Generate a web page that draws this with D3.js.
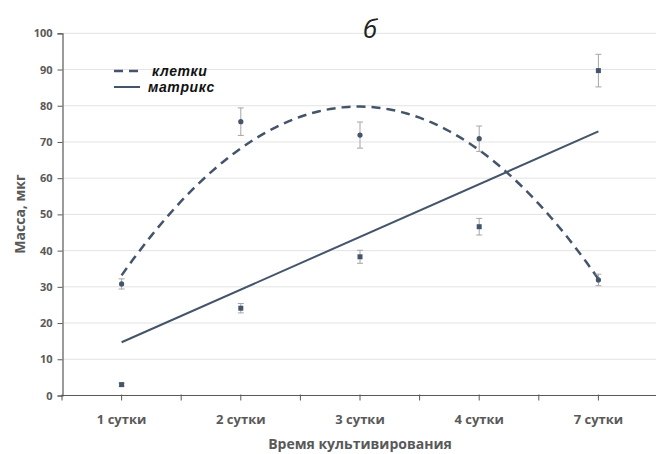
<!DOCTYPE html>
<html>
<head>
<meta charset="utf-8">
<script src="https://cdn.jsdelivr.net/npm/d3@7/dist/d3.min.js"></script>
<style>
  html, body { margin: 0; padding: 0; background: #fff; }
  svg { display: block; }
</style>
</head>
<body>
<svg id="chart" width="656" height="454"></svg>
<script>
// Culture days
const categories = ["1 сутки", "2 сутки", "3 сутки", "4 сутки", "7 сутки"];
// Cell mass, mean and error
const cellsValues = [30.8, 75.6, 71.9, 70.9, 31.9];
const cellsErrors = [1.4, 3.8, 3.6, 3.5, 1.6];
// Matrix mass, mean and error
const matrixValues = [3.0, 24.1, 38.3, 46.6, 89.7];
const matrixErrors = [0.4, 1.3, 1.8, 2.3, 4.5];
// Linear trend of the matrix series at the first and last day
const matrixTrend = [14.7, 72.9];
const yTicks = [0, 10, 20, 30, 40, 50, 60, 70, 80, 90, 100];

const svg = d3.select("#chart");
const dark = "#44546a";
const grey = "#595959";
const font = "'Open Sans', 'DejaVu Sans', sans-serif";
const legendFont = "'Liberation Sans', Arial, sans-serif";

const x = d3.scaleBand().domain(categories).range([62, 658]);
const cx = c => x(c) + x.bandwidth() / 2;
const y = d3.scaleLinear().domain([0, 100]).range([395.5, 33.3]);

// Gridlines
svg.append("g")
  .selectAll("line").data(yTicks.slice(1)).join("line")
  .attr("x1", 63).attr("x2", 656)
  .attr("y1", d => y(d)).attr("y2", d => y(d))
  .attr("stroke", "#e3e3e3").attr("stroke-width", 1);

// Y axis
const yAxis = svg.append("g")
  .attr("transform", "translate(62.5,0)")
  .call(d3.axisLeft(y).tickValues(yTicks).tickSize(5).tickPadding(5));
yAxis.select(".domain").attr("stroke", "#595959").attr("stroke-width", 1.2);
yAxis.selectAll(".tick line").attr("stroke", "#595959");
yAxis.selectAll(".tick text")
  .attr("fill", grey).attr("font-family", font)
  .attr("font-weight", "bold").attr("font-size", 11);

// X axis: ticks at category centres and boundaries
const xAxisG = svg.append("g").attr("transform", `translate(0,${y(0)})`);
xAxisG.append("line")
  .attr("x1", x.range()[0]).attr("x2", 656)
  .attr("stroke", "#595959").attr("stroke-width", 1.2);
const tickPos = [];
categories.forEach(c => { tickPos.push(x(c)); tickPos.push(cx(c)); });
xAxisG.selectAll("line.tk").data(tickPos).join("line")
  .attr("class", "tk")
  .attr("x1", d => d).attr("x2", d => d)
  .attr("y1", -1).attr("y2", 5)
  .attr("stroke", "#595959").attr("stroke-width", 1);
xAxisG.selectAll("text").data(categories).join("text")
  .attr("x", d => cx(d)).attr("y", 28)
  .attr("text-anchor", "middle")
  .attr("fill", grey).attr("font-family", font)
  .attr("font-weight", "bold").attr("font-size", 13)
  .text(d => d);

// Axis titles
svg.append("text")
  .attr("x", 360).attr("y", 449)
  .attr("text-anchor", "middle")
  .attr("fill", grey).attr("font-family", font)
  .attr("font-weight", "bold").attr("font-size", 14)
  .text("Время культивирования");
svg.append("text")
  .attr("transform", "translate(25,214) rotate(-90)")
  .attr("text-anchor", "middle")
  .attr("fill", grey).attr("font-family", font)
  .attr("font-weight", "bold").attr("font-size", 14)
  .text("Масса, мкг");

// Panel label
svg.append("text")
  .attr("x", 370).attr("y", 38)
  .attr("text-anchor", "middle")
  .attr("fill", "#222").attr("font-family", font)
  .attr("font-style", "italic").attr("font-size", 26)
  .text("б");

// Second-order polynomial trend of the cell series (least squares)
function quadFit(xs, ys) {
  let s = [0, 0, 0, 0, 0], t = [0, 0, 0];
  xs.forEach((xi, i) => {
    for (let k = 0; k < 5; k++) s[k] += Math.pow(xi, k);
    for (let k = 0; k < 3; k++) t[k] += Math.pow(xi, k) * ys[i];
  });
  const A = [[s[0], s[1], s[2], t[0]], [s[1], s[2], s[3], t[1]], [s[2], s[3], s[4], t[2]]];
  for (let i = 0; i < 3; i++) {
    for (let j = i + 1; j < 3; j++) {
      const f = A[j][i] / A[i][i];
      for (let k = i; k < 4; k++) A[j][k] -= f * A[i][k];
    }
  }
  const c = [0, 0, 0];
  for (let i = 2; i >= 0; i--) {
    let v = A[i][3];
    for (let k = i + 1; k < 3; k++) v -= A[i][k] * c[k];
    c[i] = v / A[i][i];
  }
  return u => c[0] + c[1] * u + c[2] * u * u;
}
const idx = categories.map((_, i) => i);
const fit = quadFit(idx, cellsValues);
const xIdx = d3.scaleLinear().domain([0, categories.length - 1])
  .range([cx(categories[0]), cx(categories[categories.length - 1])]);
const curvePts = d3.range(0, 4.0001, 0.05).map(u => [xIdx(u), y(fit(u))]);

svg.append("path")
  .attr("d", d3.line()(curvePts))
  .attr("fill", "none").attr("stroke", dark)
  .attr("stroke-width", 2.5).attr("stroke-dasharray", "9,6");

// Linear trend of the matrix series
svg.append("path")
  .attr("d", d3.line()([[xIdx(0), y(matrixTrend[0])], [xIdx(4), y(matrixTrend[1])]]))
  .attr("fill", "none").attr("stroke", dark).attr("stroke-width", 2);

// Error bars
function errorBars(vals, errs) {
  const g = svg.append("g").attr("stroke", "#a6a6a6").attr("stroke-width", 1);
  categories.forEach((c, i) => {
    const px = cx(c), lo = y(vals[i] - errs[i]), hi = y(vals[i] + errs[i]);
    g.append("line").attr("x1", px).attr("x2", px).attr("y1", lo).attr("y2", hi);
    g.append("line").attr("x1", px - 3).attr("x2", px + 3).attr("y1", lo).attr("y2", lo);
    g.append("line").attr("x1", px - 3).attr("x2", px + 3).attr("y1", hi).attr("y2", hi);
  });
}
errorBars(cellsValues, cellsErrors);
errorBars(matrixValues, matrixErrors);

// Markers
svg.append("g").selectAll("circle").data(cellsValues).join("circle")
  .attr("cx", (d, i) => cx(categories[i])).attr("cy", d => y(d))
  .attr("r", 2.6).attr("fill", dark);
svg.append("g").selectAll("rect").data(matrixValues).join("rect")
  .attr("x", (d, i) => cx(categories[i]) - 2.5).attr("y", d => y(d) - 2.5)
  .attr("width", 5).attr("height", 5).attr("fill", dark);

// Legend
const legend = svg.append("g");
legend.append("line").attr("x1", 114).attr("x2", 140).attr("y1", 71).attr("y2", 71)
  .attr("stroke", dark).attr("stroke-width", 2.5).attr("stroke-dasharray", "9,6");
legend.append("line").attr("x1", 114).attr("x2", 140).attr("y1", 87).attr("y2", 87)
  .attr("stroke", dark).attr("stroke-width", 2);
legend.append("text").attr("x", 152).attr("y", 76)
  .attr("font-family", legendFont).attr("font-weight", "bold").attr("font-style", "italic")
  .attr("font-size", 14).attr("letter-spacing", 0.6).attr("fill", "#111").text("клетки");
legend.append("text").attr("x", 148).attr("y", 92)
  .attr("font-family", legendFont).attr("font-weight", "bold").attr("font-style", "italic")
  .attr("font-size", 14).attr("letter-spacing", 0.6).attr("fill", "#111").text("матрикс");
</script>
</body>
</html>
